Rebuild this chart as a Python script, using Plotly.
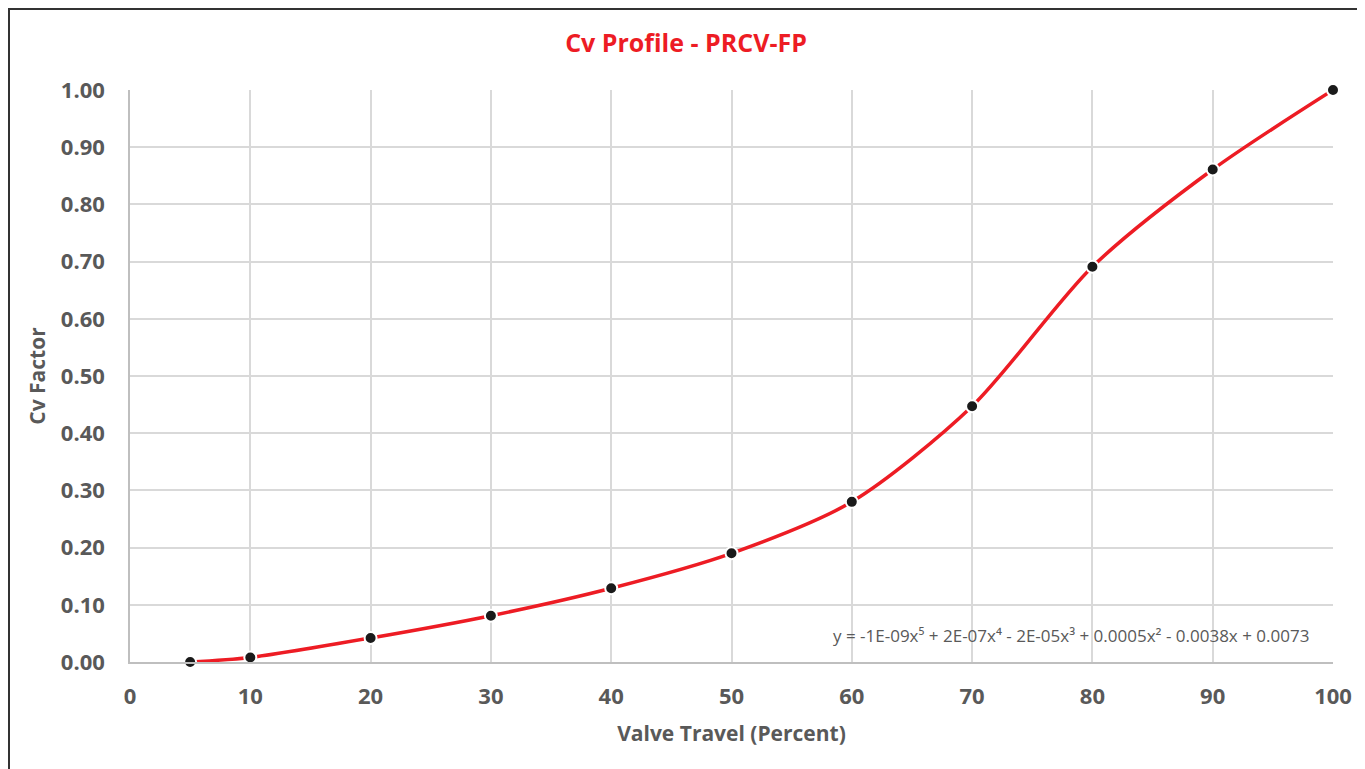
import plotly.graph_objects as go

valve_travel = [5, 10, 20, 30, 40, 50, 60, 70, 80, 90, 100]
cv_factor = [0.000, 0.008, 0.042, 0.081, 0.129, 0.190, 0.280, 0.447, 0.691, 0.861, 1.000]

title_text = "Cv Profile - PRCV-FP"
x_title = "Valve Travel (Percent)"
y_title = "Cv Factor"
equation = "y = -1E-09x\u2075 + 2E-07x\u2074 - 2E-05x\u00b3 + 0.0005x\u00b2 - 0.0038x + 0.0073"

# page has an 8px body margin; figure coordinates = page coordinates - 8
OFF = 8
W, H = 1365 - OFF, 769 - OFF
L, T = 130 - OFF, 90 - OFF
R = W - (1333 - OFF)
B = H - (662 - OFF)
pw, ph = W - L - R, H - T - B


def px_x(p):
    return (p - OFF - L) / pw


def px_y(p):
    return (H - B - (p - OFF)) / ph


fig = go.Figure()
fig.add_trace(go.Scatter(
    x=valve_travel, y=cv_factor, mode="lines+markers",
    line=dict(color="#ED1C24", width=3.5, shape="spline", smoothing=0.8),
    marker=dict(color="#1a1a1a", size=12, line=dict(color="white", width=2)),
    showlegend=False, cliponaxis=False,
))

font_family = "Open Sans"
grey = "#595959"

fig.update_layout(
    width=W, height=H,
    margin=dict(l=L, r=R, t=T, b=B, autoexpand=False),
    paper_bgcolor="white", plot_bgcolor="white",
    font=dict(family=font_family, color=grey),
    title=dict(text="<b>" + title_text + "</b>", x=(686 - OFF) / W, xanchor="center",
               y=1 - (43 - OFF) / H, yanchor="middle",
               font=dict(size=25, color="#ED1C24", family=font_family)),
    xaxis=dict(range=[0, 100], dtick=10, tick0=0, showgrid=True, gridcolor="#d9d9d9", gridwidth=1.5,
               zeroline=False, showline=True, linecolor="#bfbfbf", linewidth=1.5,
               ticks="", ticklabelstandoff=14,
               tickfont=dict(size=22, color=grey, family=font_family, weight="bold"),
               title=dict(text="<b>" + x_title + "</b>", standoff=17,
                          font=dict(size=21, color=grey, family=font_family)),
               automargin=False),
    yaxis=dict(range=[0, 1], dtick=0.1, tick0=0, tickformat=".2f", showgrid=True, gridcolor="#d9d9d9",
               gridwidth=1.5, zeroline=False, showline=True, linecolor="#bfbfbf", linewidth=1.5,
               ticks="", ticklabelstandoff=19,
               tickfont=dict(size=22, color=grey, family=font_family, weight="bold"),
               title=dict(text="<b>" + y_title + "</b>", standoff=9,
                          font=dict(size=21, color=grey, family=font_family)),
               automargin=False),
)

fig.add_annotation(
    text=equation, xref="paper", yref="paper",
    x=px_x(1311), y=px_y(635), xanchor="right", yanchor="middle",
    showarrow=False, font=dict(size=17, color=grey, family=font_family),
)

fig.add_shape(type="rect", xref="paper", yref="paper",
              x0=px_x(OFF + 1), x1=px_x(1362), y0=px_y(800), y1=px_y(OFF + 1),
              line=dict(color="#333333", width=2), fillcolor="rgba(0,0,0,0)", layer="above")

fig.write_html("out.html")
